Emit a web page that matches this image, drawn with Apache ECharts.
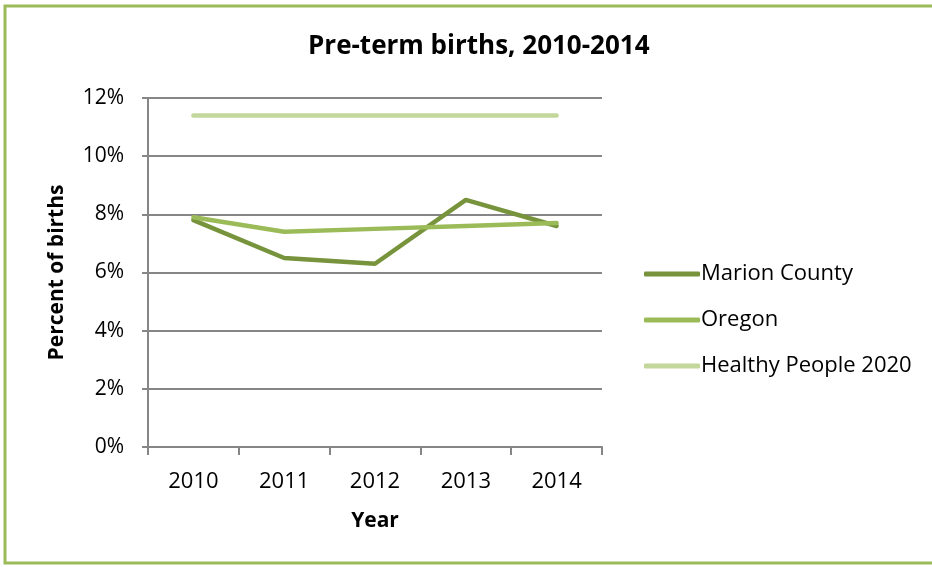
<!DOCTYPE html>
<html>
<head>
<meta charset="utf-8">
<script src="https://cdn.jsdelivr.net/npm/echarts@6/dist/echarts.min.js"></script>
<style>
  html, body { margin: 0; padding: 0; background: #fff; }
  #main { width: 932px; height: 567px; }
</style>
</head>
<body>
<div id="main"></div>
<script>
// 年份
var years = ['2010', '2011', '2012', '2013', '2014'];
// 各系列的早产率(%)
var marionCounty = [7.8, 6.5, 6.3, 8.5, 7.6];
var oregon = [7.9, 7.4, 7.5, 7.6, 7.7];
var healthyPeople = [11.4, 11.4, 11.4, 11.4, 11.4];

var fontName = 'Open Sans';
var axisGray = '#868686';

var myChart = echarts.init(document.getElementById('main'));

var option = {
    animation: false,
    backgroundColor: '#fff',
    title: {
        text: 'Pre-term births, 2010-2014',
        left: 303,
        top: 29,
        textStyle: { fontFamily: fontName, fontSize: 26, fontWeight: 'bold', color: '#000' }
    },
    // 外边框
    graphic: [{
        type: 'rect',
        shape: { x: 5, y: 6, width: 940, height: 557 },
        style: { fill: 'none', stroke: '#9bbb59', lineWidth: 3 },
        silent: true
    }],
    legend: {
        orient: 'vertical',
        left: 639,
        top: 256,
        itemWidth: 56,
        itemHeight: 5,
        itemGap: 20,
        icon: 'roundRect',
        textStyle: { fontFamily: fontName, fontSize: 22, color: '#000', lineHeight: 26, padding: [0, 0, 0, -4] },
        data: ['Marion County', 'Oregon', 'Healthy People 2020']
    },
    grid: { left: 148, right: 330, top: 98, bottom: 120 },
    xAxis: {
        type: 'category',
        data: years,
        boundaryGap: true,
        name: 'Year',
        nameLocation: 'middle',
        nameGap: 64,
        nameTextStyle: { fontFamily: fontName, fontSize: 21, fontWeight: 'bold', color: '#000' },
        axisLine: { lineStyle: { color: axisGray, width: 2 } },
        axisTick: { show: true, length: 8, lineStyle: { color: axisGray, width: 2 } },
        axisLabel: { fontFamily: fontName, fontSize: 22, color: '#000', margin: 24 }
    },
    yAxis: {
        type: 'value',
        min: 0,
        max: 12,
        interval: 2,
        name: 'Percent of births',
        nameLocation: 'middle',
        nameGap: 80,
        nameTextStyle: { fontFamily: fontName, fontSize: 21, fontWeight: 'bold', color: '#000' },
        axisLine: { show: true, lineStyle: { color: axisGray, width: 2 } },
        axisTick: { show: true, length: 6, lineStyle: { color: axisGray, width: 2 } },
        axisLabel: { fontFamily: fontName, fontSize: 21, color: '#000', margin: 24, formatter: '{value}%' },
        splitLine: { lineStyle: { color: axisGray, width: 2 } }
    },
    series: [
        {
            name: 'Marion County',
            type: 'line',
            data: marionCounty,
            symbol: 'none',
            color: '#77933c',
            lineStyle: { width: 4.5, cap: 'round' }
        },
        {
            name: 'Oregon',
            type: 'line',
            data: oregon,
            symbol: 'none',
            color: '#9bbb59',
            lineStyle: { width: 4.5, cap: 'round' }
        },
        {
            name: 'Healthy People 2020',
            type: 'line',
            data: healthyPeople,
            symbol: 'none',
            color: '#c3d69b',
            lineStyle: { width: 4.5, cap: 'round' }
        }
    ]
};

myChart.setOption(option);
</script>
</body>
</html>
